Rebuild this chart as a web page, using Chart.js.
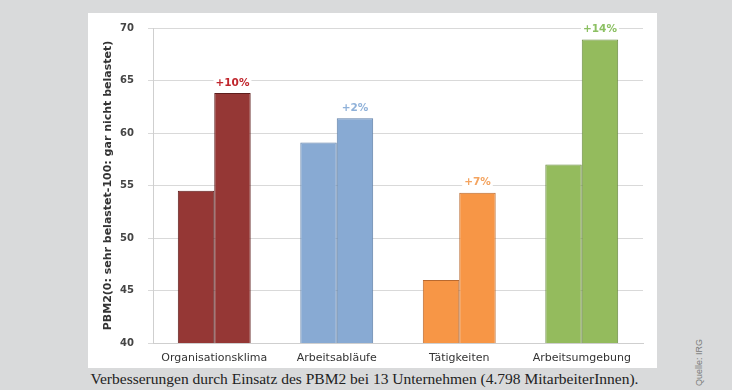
<!DOCTYPE html>
<html>
<head>
<meta charset="utf-8">
<script src="https://cdn.jsdelivr.net/npm/chart.js@4.4.0/dist/chart.umd.min.js"></script>
<style>
  html, body { margin: 0; padding: 0; }
  body { width: 732px; height: 390px; background: #d9dadb; position: relative; overflow: hidden; }
  #panel { position: absolute; left: 88px; top: 13px; width: 569px; height: 355px; background: #ffffff; overflow: hidden; }
  #chart { position: absolute; left: 0; top: -5px; }
  #caption { position: absolute; left: 80px; top: 370px; width: 569px; text-align: center;
    font-family: "Liberation Serif", "DejaVu Serif", serif; font-size: 15.5px; color: #222; white-space: nowrap; }
  #source { position: absolute; left: 694px; top: 386px; transform: rotate(-90deg); transform-origin: left top;
    font-family: "Liberation Sans", sans-serif; font-size: 9px; color: #7a7a7a; white-space: nowrap; }
</style>
</head>
<body>
<div id="panel"><canvas id="chart" width="569" height="360"></canvas></div>
<div id="caption">Verbesserungen durch Einsatz des PBM2 bei 13 Unternehmen (4.798 MitarbeiterInnen).</div>
<div id="source">Quelle: IRG</div>
<script>
const categories = ["Organisationsklima", "Arbeitsabläufe", "Tätigkeiten", "Arbeitsumgebung"];
const before_values = [54.5, 59.1, 46.0, 57.0];
const after_values = [63.8, 61.4, 54.3, 68.9];
const change_labels = ["+10%", "+2%", "+7%", "+14%"];
const y_ticks = [40, 45, 50, 55, 60, 65, 70];

const bar_colours = ["#953735", "#88aad3", "#f79646", "#94bb5d"];
const border_colours = ["#5e1e1d", "#5f7fa6", "#b9692f", "#6a8a40"];
const label_colours = ["#c0262d", "#8fb1d9", "#f4a460", "#8cc063"];

const changeLabels = {
  id: "changeLabels",
  afterDatasetsDraw(chart) {
    const ctx = chart.ctx;
    const meta = chart.getDatasetMeta(1);
    ctx.save();
    ctx.font = "bold 10.5px 'DejaVu Sans'";
    ctx.textAlign = "center";
    ctx.textBaseline = "bottom";
    meta.data.forEach((bar, i) => {
      const w = ctx.measureText(change_labels[i]).width;
      ctx.fillStyle = "#ffffff";
      ctx.fillRect(bar.x - w / 2 - 2, bar.y - 18, w + 4, 13);
      ctx.fillStyle = label_colours[i];
      ctx.fillText(change_labels[i], bar.x, bar.y - 5);
    });
    ctx.restore();
  }
};

const canvas = document.getElementById("chart");
new Chart(canvas.getContext("2d"), {
  type: "bar",
  data: {
    labels: categories,
    datasets: [
      { label: "vorher", data: before_values, backgroundColor: bar_colours, borderColor: border_colours, borderWidth: 1 },
      { label: "nachher", data: after_values, backgroundColor: bar_colours, borderColor: border_colours, borderWidth: 1 }
    ]
  },
  options: {
    responsive: false,
    animation: false,
    categoryPercentage: 0.595,
    barPercentage: 1.0,
    layout: { padding: { left: 10, top: 3, right: 14, bottom: 0 } },
    scales: {
      y: {
        min: 40,
        max: 70,
        afterBuildTicks: (scale) => { scale.ticks = y_ticks.map(v => ({ value: v })); },
        afterFit: (scale) => { scale.width = 55; },
        grid: { color: "#d9d9d9", tickLength: 5 },
        border: { color: "#cfcfcf" },
        ticks: { color: "#444", padding: 14, font: { family: "DejaVu Sans", size: 10, weight: "bold" } },
        title: {
          display: true,
          text: "PBM2(0: sehr belastet-100: gar nicht belastet)",
          color: "#333",
          padding: { top: 4, bottom: 0 },
          font: { family: "DejaVu Sans", size: 11, weight: "bold" }
        }
      },
      x: {
        afterFit: (scale) => { scale.height = 25; },
        grid: { display: false, drawTicks: true, tickLength: 4 },
        border: { color: "#cfcfcf" },
        ticks: { color: "#333", padding: 5, font: { family: "DejaVu Sans", size: 11 } }
      }
    },
    plugins: {
      legend: { display: false },
      tooltip: { enabled: false }
    }
  },
  plugins: [changeLabels]
});
</script>
</body>
</html>
